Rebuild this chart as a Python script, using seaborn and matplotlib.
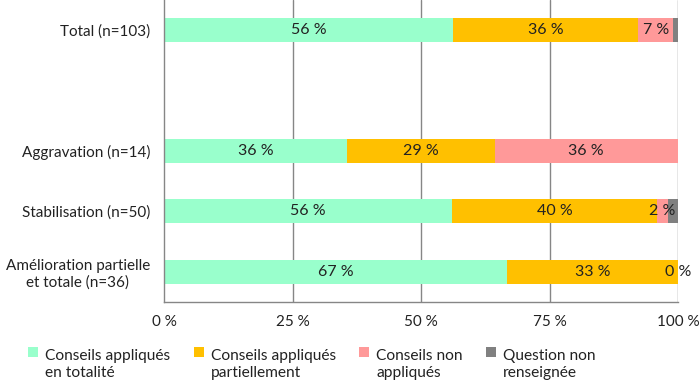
import matplotlib
matplotlib.use("Agg")
import matplotlib.pyplot as plt
from matplotlib.patches import Rectangle, Patch
from matplotlib.legend_handler import HandlerBase
import seaborn as sns
import numpy as np
import pandas as pd

# données (pourcentages)
categories = ["Total (n=103)", "Aggravation (n=14)", "Stabilisation (n=50)",
              "Amélioration partielle\net totale (n=36)"]
ordre = ["Total (n=103)", " ", "Aggravation (n=14)", "Stabilisation (n=50)",
         "Amélioration partielle\net totale (n=36)"]
en_totalite = [56.3, 35.7, 56.0, 66.7]
partiellement = [36.0, 28.6, 40.0, 33.3]
non_appliques = [6.8, 35.7, 2.0, 0.0]
non_renseignee = [0.9, 0.0, 2.0, 0.0]
series_noms = ["Conseils appliqués\nen totalité", "Conseils appliqués\npartiellement",
               "Conseils non\nappliqués", "Question non\nrenseignée"]
couleurs = ["#99FFCC", "#FFC000", "#FF9999", "#808080"]
x_ticks = [0, 25, 50, 75, 100]

sns.set_style("white")
plt.rcParams['font.family'] = ['Lato', 'DejaVu Sans']
taille = 11
taille_leg = 11.2

series = [en_totalite, partiellement, non_appliques, non_renseignee]
cumul = np.cumsum(np.array(series), axis=0)

fig = plt.figure(figsize=(7, 3.85), dpi=100)
ax = fig.add_axes([164 / 700, 83 / 385, 514 / 700, 302 / 385])

for x in x_ticks[1:]:
    ax.axvline(x, color="#868686", lw=1, zorder=0)

# couches cumulées, de la plus longue à la plus courte
for k in range(3, -1, -1):
    df = pd.DataFrame({"cat": categories, "val": cumul[k]})
    sns.barplot(data=df, x="val", y="cat", order=ordre, color=couleurs[k],
                saturation=1, width=0.4, orient="h", linewidth=0, ax=ax, zorder=2)

# étiquettes des segments (sauf "Question non renseignée")
for k in range(3):
    for i, cat in enumerate(categories):
        v = series[k][i]
        centre = cumul[k][i] - v / 2
        ax.text(centre, ordre.index(cat), f"{v:.0f} %", ha="center", va="center",
                fontsize=11.5, color="#222222", zorder=3)

ax.set_xlim(0, 100)
ax.set_ylim(4.5, -0.5)
ax.set_xticks(x_ticks)
ax.set_xticklabels([f"{t} %" for t in x_ticks], fontsize=taille, color="#222222")
ax.set_yticks(range(len(ordre)))
ax.set_yticklabels(ordre, fontsize=taille, color="#222222")
for lab in ax.get_yticklabels():
    lab.set_multialignment("center")
ax.set_yticks(np.arange(-0.5, 5, 1), minor=True)
ax.tick_params(axis="y", which="major", length=0, pad=10)
ax.tick_params(axis="y", which="minor", length=4, width=1, color="#868686", direction="out")
ax.tick_params(axis="x", length=3, width=1, color="#868686", direction="out", pad=6)
ax.set_xlabel("")
ax.set_ylabel("")
for s in ["top", "right"]:
    ax.spines[s].set_visible(False)
for s in ["left", "bottom"]:
    ax.spines[s].set_color("#868686")
    ax.spines[s].set_linewidth(1)


class CarreHaut(HandlerBase):
    # carré aligné sur la première ligne du libellé
    def create_artists(self, legend, orig_handle, xdescent, ydescent,
                       width, height, fontsize, trans):
        c = 0.65 * fontsize
        r = Rectangle((-xdescent, 0.85 * fontsize), c, c,
                      facecolor=orig_handle.get_facecolor(), edgecolor="none",
                      transform=trans)
        return [r]


handles = [Patch(facecolor=c) for c in couleurs]
leg = fig.legend(handles, series_noms, loc="upper left",
                 bbox_to_anchor=(28 / 700, 1 - 349 / 385),
                 ncol=4, frameon=False, fontsize=taille_leg, handlelength=0.65,
                 handletextpad=0.45, columnspacing=1.5, borderpad=0, borderaxespad=0,
                 handler_map={Patch: CarreHaut()}, labelcolor="#222222")
for t in leg.get_texts():
    t.set_linespacing(1.3)

fig.savefig("out.png", dpi=100)
